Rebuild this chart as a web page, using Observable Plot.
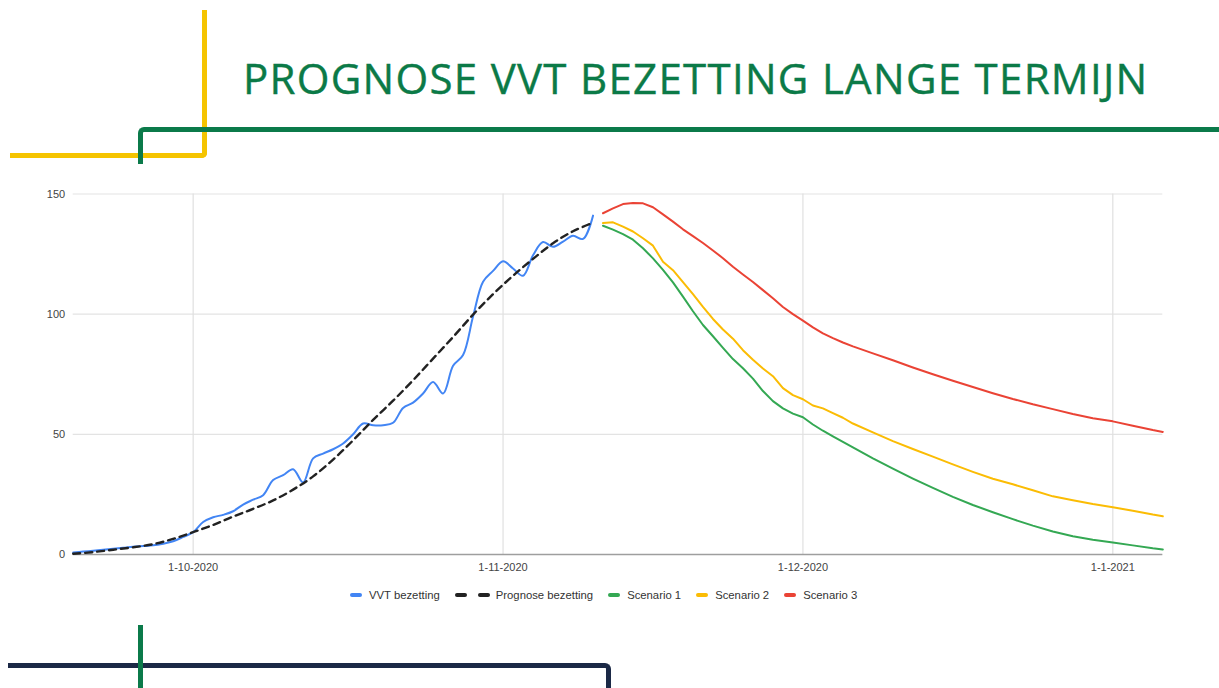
<!DOCTYPE html>
<html>
<head>
<meta charset="utf-8">
<script src="https://cdn.jsdelivr.net/npm/d3@7"></script>
<script src="https://cdn.jsdelivr.net/npm/@observablehq/plot@0.6"></script>
<style>
  html, body { margin:0; padding:0; background:#fff; width:1219px; height:688px; overflow:hidden; position:relative; }
  .deco { position:absolute; box-sizing:border-box; }
  #title { position:absolute; left:243px; top:57px; font-family:"Open Sans", sans-serif; font-size:42px; line-height:42px; letter-spacing:1.3px; color:#0b7a47; white-space:nowrap; -webkit-text-stroke:0.4px #0b7a47; }
  #chart { position:absolute; left:0; top:180px; }
  #legend { position:absolute; left:350px; top:589px; display:flex; align-items:center; font-family:"Liberation Sans", Arial, sans-serif; font-size:11.3px; color:#333; white-space:nowrap; }
  .item { display:flex; align-items:center; margin-right:15px; }
  .sw { width:12px; height:4px; border-radius:2px; margin-right:7px; }
</style>
</head>
<body>
<div class="deco" style="left:10px;top:10px;width:197px;height:148px;border-right:5px solid #f5c400;border-bottom:5px solid #f5c400;border-bottom-right-radius:5px;"></div>
<div class="deco" style="left:138px;top:127px;width:1090px;height:37px;border-top:5px solid #0b7a4a;border-left:5px solid #0b7a4a;border-top-left-radius:6px;"></div>
<div class="deco" style="left:8px;top:663px;width:603px;height:40px;border-top:5px solid #1b2946;border-right:5px solid #1b2946;border-top-right-radius:6px;"></div>
<div class="deco" style="left:138px;top:625px;width:5px;height:63px;background:#0b7a4a;"></div>
<div id="title">PROGNOSE VVT BEZETTING LANGE TERMIJN</div>
<div id="chart"></div>
<div id="legend"></div>
<script>
// ---- data ----
const vvt = [
  ["2020-09-19",0.8],["2020-09-20",1.2],["2020-09-21",1.6],["2020-09-22",2.0],["2020-09-23",2.4],
  ["2020-09-24",2.8],["2020-09-25",3.2],["2020-09-26",3.5],["2020-09-27",3.8],["2020-09-28",4.5],
  ["2020-09-29",5.5],["2020-09-30",7.3],["2020-10-01",9.3],["2020-10-02",13.5],["2020-10-03",15.5],
  ["2020-10-04",16.5],["2020-10-05",18],["2020-10-06",20.8],["2020-10-07",22.8],["2020-10-08",24.7],
  ["2020-10-09",31],["2020-10-10",33],["2020-10-11",35.5],["2020-10-12",30],["2020-10-13",40],
  ["2020-10-14",42],["2020-10-15",43.8],["2020-10-16",46.2],["2020-10-17",50],["2020-10-18",54.5],
  ["2020-10-19",53.8],["2020-10-20",53.8],["2020-10-21",54.8],["2020-10-22",61],["2020-10-23",63.2],
  ["2020-10-24",67],["2020-10-25",71.8],["2020-10-26",67],["2020-10-27",78.5],["2020-10-28",83],
  ["2020-10-29",99],["2020-10-30",113.5],["2020-10-31",118],["2020-11-01",122],["2020-11-02",119],
  ["2020-11-03",116],["2020-11-04",124.5],["2020-11-05",130],["2020-11-06",128],["2020-11-07",130.2],
  ["2020-11-08",132.6],["2020-11-09",131.3],["2020-11-10",141]
];
const prognose = [
  ["2020-09-19",0.3],["2020-09-21",1.0],["2020-09-23",2.0],["2020-09-25",3.0],["2020-09-27",4.3],
  ["2020-09-29",6.5],["2020-10-01",9.3],["2020-10-03",12.3],["2020-10-05",15.8],["2020-10-07",19.0],
  ["2020-10-09",22.5],["2020-10-11",27.0],["2020-10-13",32.5],["2020-10-15",39.5],["2020-10-17",47.5],
  ["2020-10-19",56],["2020-10-21",64],["2020-10-23",72.5],["2020-10-25",81.5],["2020-10-27",90.5],
  ["2020-10-29",99.8],["2020-10-31",108.3],["2020-11-02",116],["2020-11-04",123],["2020-11-06",129.5],
  ["2020-11-08",134.5],["2020-11-10",138]
];
const scenario1 = [
  ["2020-11-11",136.8],["2020-11-12",135.2],["2020-11-13",133.3],["2020-11-14",131.0],["2020-11-15",127.4],
  ["2020-11-16",123.2],["2020-11-17",118.4],["2020-11-18",113.2],["2020-11-19",107.3],["2020-11-20",101.2],
  ["2020-11-21",95.5],["2020-11-22",90.8],["2020-11-23",86.0],["2020-11-24",81.3],["2020-11-25",77.5],
  ["2020-11-26",73.2],["2020-11-27",68.0],["2020-11-28",63.8],["2020-11-29",60.8],["2020-11-30",58.6],
  ["2020-12-01",57.1],["2020-12-02",54.1],["2020-12-03",51.5],["2020-12-04",49.2],["2020-12-05",46.9],
  ["2020-12-06",44.6],["2020-12-08",40.0],["2020-12-10",35.7],["2020-12-12",31.6],["2020-12-14",27.7],
  ["2020-12-16",24.0],["2020-12-18",20.6],["2020-12-20",17.6],["2020-12-22",14.7],["2020-12-24",12.0],
  ["2020-12-26",9.6],["2020-12-28",7.6],["2020-12-30",6.1],["2021-01-01",5.0],["2021-01-03",3.8],
  ["2021-01-05",2.6],["2021-01-06",2.1]
];
const scenario2 = [
  ["2020-11-11",137.9],["2020-11-12",138.2],["2020-11-13",136.4],["2020-11-14",134.4],["2020-11-15",131.6],
  ["2020-11-16",128.5],["2020-11-17",121.8],["2020-11-18",118.3],["2020-11-19",113.3],["2020-11-20",108.3],
  ["2020-11-21",103.0],["2020-11-22",98.0],["2020-11-23",93.6],["2020-11-24",89.8],["2020-11-25",85.0],
  ["2020-11-26",81.0],["2020-11-27",77.4],["2020-11-28",74.2],["2020-11-29",69.2],["2020-11-30",66.3],
  ["2020-12-01",64.6],["2020-12-02",62.0],["2020-12-03",60.8],["2020-12-04",58.8],["2020-12-05",56.9],
  ["2020-12-06",54.5],["2020-12-08",50.8],["2020-12-10",47.2],["2020-12-12",43.9],["2020-12-14",40.7],
  ["2020-12-16",37.5],["2020-12-18",34.4],["2020-12-20",31.5],["2020-12-22",29.2],["2020-12-24",26.7],
  ["2020-12-26",24.2],["2020-12-28",22.6],["2020-12-30",21.0],["2021-01-01",19.7],["2021-01-03",18.2],
  ["2021-01-05",16.6],["2021-01-06",15.9]
];
const scenario3 = [
  ["2020-11-11",142.0],["2020-11-12",144.0],["2020-11-13",145.8],["2020-11-14",146.3],["2020-11-15",146.1],
  ["2020-11-16",144.5],["2020-11-17",141.5],["2020-11-18",138.5],["2020-11-19",135.3],["2020-11-20",132.5],
  ["2020-11-21",129.6],["2020-11-22",126.5],["2020-11-23",123.3],["2020-11-24",119.7],["2020-11-25",116.5],
  ["2020-11-26",113.4],["2020-11-27",110.0],["2020-11-28",106.6],["2020-11-29",103.0],["2020-11-30",100.0],
  ["2020-12-01",97.3],["2020-12-02",94.5],["2020-12-03",92.0],["2020-12-04",90.0],["2020-12-05",88.2],
  ["2020-12-06",86.6],["2020-12-08",83.7],["2020-12-10",80.8],["2020-12-12",77.8],["2020-12-14",75.0],
  ["2020-12-16",72.3],["2020-12-18",69.7],["2020-12-20",67.1],["2020-12-22",64.7],["2020-12-24",62.5],
  ["2020-12-26",60.5],["2020-12-28",58.5],["2020-12-30",56.7],["2021-01-01",55.4],["2021-01-03",53.6],
  ["2021-01-05",51.8],["2021-01-06",51.0]
];
const xTickLabels = ["2020-10-01","2020-11-01","2020-12-01","2021-01-01"];
const yTicks = [0, 50, 100, 150];
const xDomain = ["2020-09-19","2021-01-06"];

const series = [
  {name:"VVT bezetting", data:vvt, color:"#4285f4", dash:null, width:2, curve:"catmull-rom"},
  {name:"Prognose bezetting", data:prognose, color:"#222222", dash:"7,5", width:2.4, curve:"catmull-rom"},
  {name:"Scenario 1", data:scenario1, color:"#34a853", dash:null, width:2, curve:"linear"},
  {name:"Scenario 2", data:scenario2, color:"#fbbc04", dash:null, width:2, curve:"linear"},
  {name:"Scenario 3", data:scenario3, color:"#ea4335", dash:null, width:2, curve:"linear"}
];

const parse = s => new Date(s + "T00:00:00Z");
const xTicks = xTickLabels.map(parse);
const fmt = d => `${d.getUTCDate()}-${d.getUTCMonth() + 1}-${d.getUTCFullYear()}`;

const lineMarks = series.map(s => Plot.line(s.data.map(([d, v]) => ({date: parse(d), value: v})), {
  x: "date", y: "value", stroke: s.color, strokeWidth: s.width, curve: s.curve,
  strokeDasharray: s.dash || undefined
}));

const chart = Plot.plot({
  width: 1219, height: 400,
  marginLeft: 72.7, marginRight: 56.7, marginTop: 13.5, marginBottom: 26,
  style: {fontFamily: "'Liberation Sans', Arial, sans-serif", fontSize: "11px", color: "#444", background: "transparent", overflow: "visible"},
  x: {type: "utc", domain: xDomain.map(parse)},
  y: {domain: [0, 150]},
  marks: [
    Plot.gridY(yTicks, {stroke: "#e3e3e3", strokeOpacity: 1, strokeWidth: 1.2}),
    Plot.gridX(xTicks, {stroke: "#e0e0e0", strokeOpacity: 1, strokeWidth: 1.2}),
    Plot.axisY(yTicks, {tickSize: 0, tickPadding: 8, label: null, fill: "#444"}),
    Plot.axisX(xTicks, {tickSize: 0, tickPadding: 8.5, tickFormat: fmt, label: null, fill: "#444"}),
    Plot.ruleY([0], {stroke: "#9e9e9e", strokeWidth: 1.6}),
    ...lineMarks
  ]
});
document.getElementById("chart").appendChild(chart);

// legend
const legend = document.getElementById("legend");
series.forEach(s => {
  const item = document.createElement("div");
  item.className = "item";
  if (s.dash) {
    for (let i = 0; i < 2; i++) {
      const sw = document.createElement("div");
      sw.className = "sw";
      sw.style.background = s.color;
      sw.style.marginRight = i === 0 ? "11px" : "6px";
      item.appendChild(sw);
    }
  } else {
    const sw = document.createElement("div");
    sw.className = "sw";
    sw.style.background = s.color;
    item.appendChild(sw);
  }
  const t = document.createElement("span");
  t.textContent = s.name;
  item.appendChild(t);
  legend.appendChild(item);
});
</script>
</body>
</html>
